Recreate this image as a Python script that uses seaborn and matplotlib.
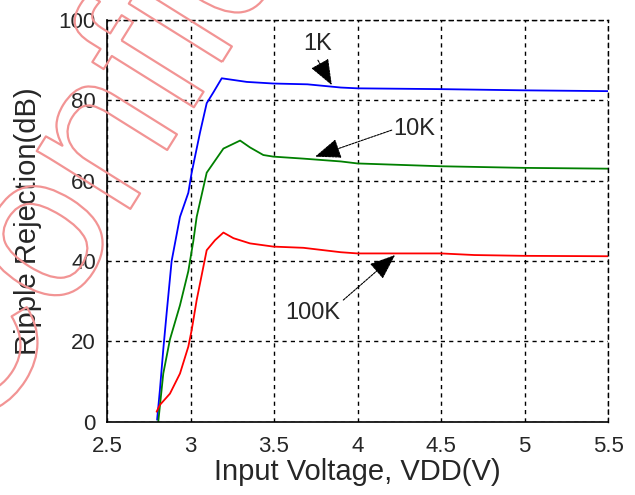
import matplotlib
matplotlib.use("Agg")
import matplotlib.pyplot as plt
import matplotlib.patheffects as pe
import pandas as pd
import seaborn as sns

# curves
x_1k = [2.80, 2.817, 2.837, 2.857, 2.887, 2.937, 2.987, 3.007, 3.057, 3.097, 3.137,
        3.187, 3.237, 3.337, 3.496, 3.70, 3.90, 4.0, 4.5, 5.0, 5.5]
y_1k = [0.5, 8, 18, 27, 40, 51, 57, 62, 72, 79.3, 82, 85.5, 85.2, 84.6, 84.2, 84.0,
        83.2, 83.0, 82.8, 82.5, 82.3]

x_10k = [2.807, 2.837, 2.877, 2.937, 2.987, 3.017, 3.037, 3.097, 3.147, 3.197, 3.297,
         3.356, 3.436, 3.496, 3.676, 3.9, 4.0, 4.5, 5.0, 5.5]
y_10k = [0, 12, 20.5, 29, 37.5, 45, 51, 62, 65, 68, 70, 68.3, 66.4, 66, 65.5, 64.8,
         64.3, 63.6, 63.2, 63.0]

x_100k = [2.797, 2.817, 2.877, 2.937, 2.987, 3.007, 3.037, 3.097, 3.147, 3.197, 3.257,
          3.356, 3.496, 3.676, 3.9, 4.0, 4.5, 4.7, 5.0, 5.5]
y_100k = [2.5, 4.2, 7, 12, 18.7, 22.8, 30.3, 42.7, 45.2, 47.1, 45.7, 44.4, 43.6, 43.3,
          42.2, 41.9, 41.9, 41.5, 41.3, 41.2]

labels = ["1K", "10K", "100K"]
colors = ["#0000ff", "#008000", "#ff0000"]
label_xy = [(3.763, 94.0), (4.338, 72.9), (3.734, 27.0)]
arrow_start = [(3.763, 90.0), (4.205, 72.6), (3.915, 30.3)]
arrow_tip = [(3.846, 83.8), (3.746, 66.0), (4.225, 41.5)]

xticks = [2.5, 3, 3.5, 4, 4.5, 5, 5.5]
xtick_labels = ["2.5", "3", "3.5", "4", "4.5", "5", "5.5"]
yticks = [0, 20, 40, 60, 80, 100]

df = pd.concat([
    pd.DataFrame({"vdd": x_1k, "rej": y_1k, "freq": "1K"}),
    pd.DataFrame({"vdd": x_10k, "rej": y_10k, "freq": "10K"}),
    pd.DataFrame({"vdd": x_100k, "rej": y_100k, "freq": "100K"}),
])

sns.set_style("white")
plt.rcParams["font.family"] = ["Liberation Sans", "DejaVu Sans"]

fig = plt.figure(figsize=(6.35, 4.95), dpi=100)
ax = fig.add_axes([0.1685, 0.148, 0.789, 0.8115])

sns.lineplot(data=df, x="vdd", y="rej", hue="freq", hue_order=labels,
             palette=dict(zip(labels, colors)), sort=False, estimator=None,
             linewidth=1.3, legend=False, ax=ax)

ax.set_xlim(2.5, 5.5)
ax.set_ylim(0, 100)
ax.set_xticks(xticks)
ax.set_xticklabels(xtick_labels)
ax.set_yticks(yticks)
ax.tick_params(direction="in", length=4, width=1, labelsize=16)
ax.tick_params(axis="x", pad=10)
ax.tick_params(axis="y", pad=8)
ax.grid(True, color="black", linestyle=(0, (3, 3)), linewidth=1)
for s in ["left", "bottom"]:
    ax.spines[s].set_color("black")
    ax.spines[s].set_linewidth(1.2)
for s in ["top", "right"]:
    ax.spines[s].set_color("black")
    ax.spines[s].set_linestyle((0, (3, 3)))
    ax.spines[s].set_linewidth(1)

ax.set_xlabel("Input Voltage, VDD(V)", fontsize=21, labelpad=1)
ax.set_ylabel("Ripple Rejection(dB)", fontsize=21, labelpad=12)

for lab, xy, start, tip in zip(labels, label_xy, arrow_start, arrow_tip):
    ax.text(xy[0], xy[1], lab, fontsize=17, ha="center", va="center")
    ax.annotate("", xy=tip, xytext=start,
                arrowprops=dict(arrowstyle="-|>,head_length=0.9,head_width=0.35",
                                color="black", lw=0.8, linestyle=(0, (2, 1)),
                                mutation_scale=18, shrinkA=0, shrinkB=0))

# hollow watermark
fig.text(-0.029, 0.097, "Confidential", fontsize=150, rotation=58,
         rotation_mode="anchor", ha="left", va="baseline", color="none",
         path_effects=[pe.Stroke(linewidth=1.6, foreground="#f29494")])

fig.savefig("out.png", dpi=100)
